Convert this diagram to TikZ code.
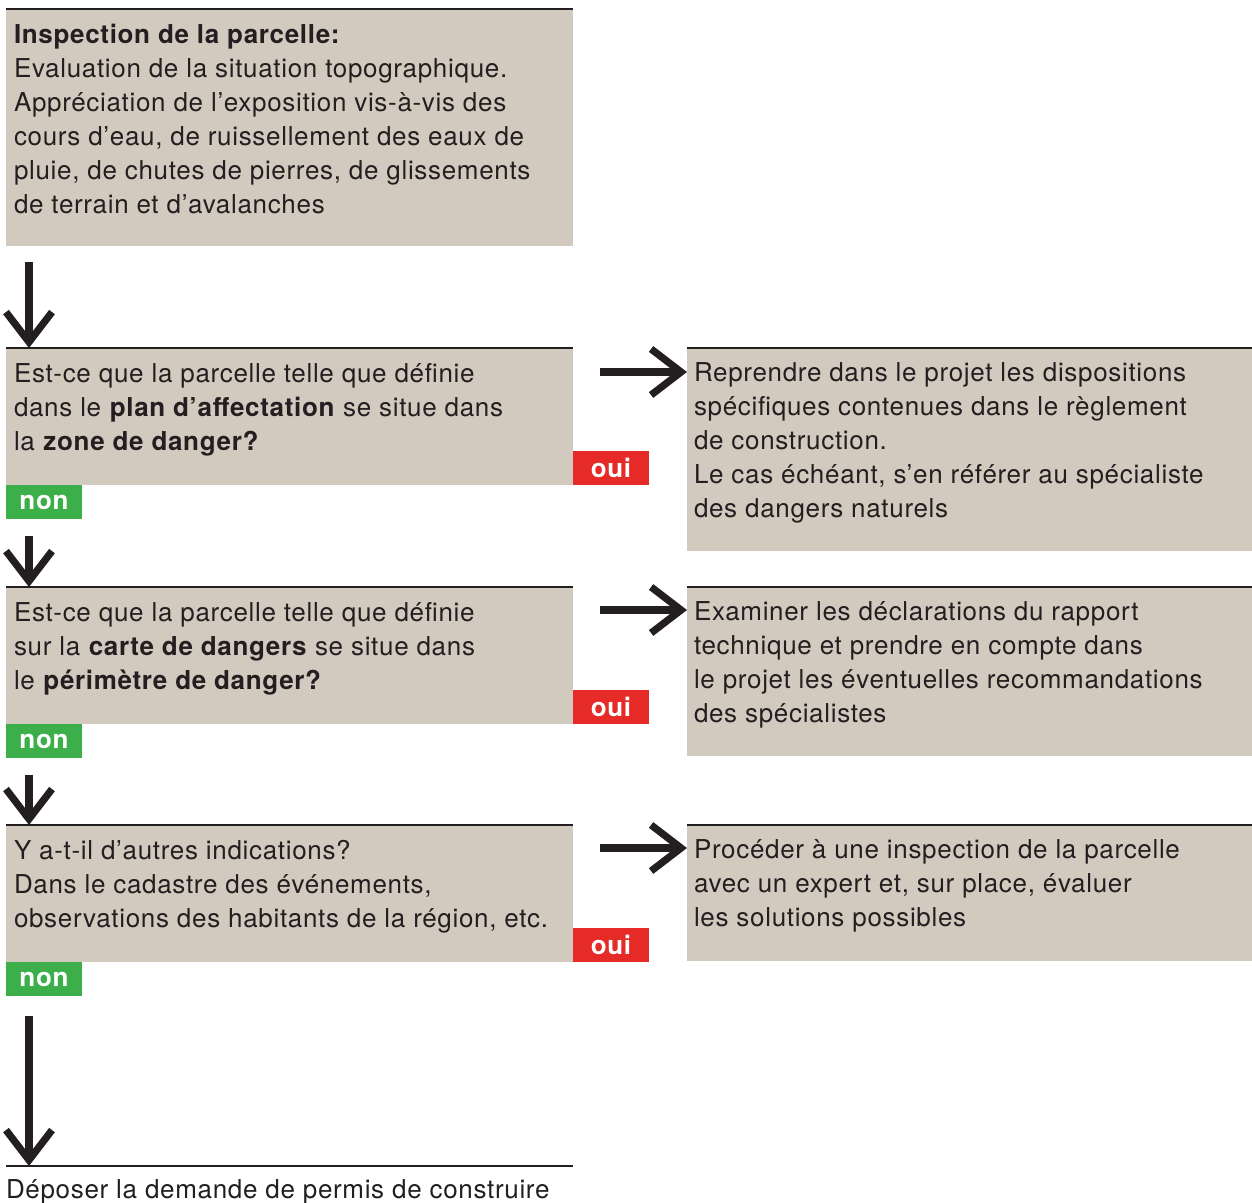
\documentclass[tikz,border=0pt]{standalone}
\usepackage{fontspec}
\setmainfont[LetterSpace=2.6]{TeX Gyre Heros}
\usetikzlibrary{positioning,arrows.meta}

\definecolor{beige}{HTML}{D2CABF}
\definecolor{ink}{HTML}{231F20}
\definecolor{ouired}{HTML}{E52A27}
\definecolor{nongreen}{HTML}{3CAF4A}

\tikzset{
  box/.style 2 args={fill=beige, minimum width=#1, minimum height=#2, inner sep=0pt, outer sep=0pt, anchor=north west},
  txt/.style={anchor=north west, inner sep=0pt, outer sep=0pt, text=ink, align=left, font=\fontsize{13}{17}\selectfont},
  topline/.style={draw=ink, line width=1pt},
  tag/.style={fill=#1, text=white, font=\fontsize{13}{17}\selectfont\bfseries, minimum width=38pt, minimum height=17pt, inner sep=0pt, outer sep=0pt},
  flow/.style={draw=ink, line width=3.6pt, -{Straight Barb[length=15pt,width=23pt]}},
}

\begin{document}
\begin{tikzpicture}[x=1pt,y=1pt]
  \useasboundingbox (0,0) rectangle (626,-601.5);

  % left column
  \node[box={283.5pt}{118.5pt}] (insp) at (3,-4.5) {};
  \node[box={283.5pt}{68.5pt}, below=51pt of insp.south west, anchor=north west] (q1) {};
  \node[box={283.5pt}{68.5pt}, below=51pt of q1.south west, anchor=north west] (q2) {};
  \node[box={283.5pt}{68.5pt}, below=50.5pt of q2.south west, anchor=north west] (q3) {};

  % right column
  \node[box={282.5pt}{101.5pt}, right=57pt of q1.north east, anchor=north west] (r1) {};
  \node[box={282.5pt}{84.5pt}, right=57pt of q2.north east, anchor=north west] (r2) {};
  \node[box={282.5pt}{68pt}, right=57pt of q3.north east, anchor=north west] (r3) {};

  \foreach \b in {insp,q1,q2,q3,r1,r2,r3}
    \draw[topline] (\b.north west) -- (\b.north east);

  % texts
  \node[txt] (insp-t) at ([xshift=4pt,yshift=-7.5pt]insp.north west)
    {\textbf{Inspection de la parcelle:}\\
     Evaluation de la situation topographique.\\
     Appréciation de l’exposition vis-à-vis des\\
     cours d’eau, de ruissellement des eaux de\\
     pluie, de chutes de pierres, de glissements\\
     de terrain et d’avalanches};
  \node[txt] (q1-t) at ([xshift=4pt,yshift=-7.5pt]q1.north west)
    {Est-ce que la parcelle telle que définie\\
     dans le \textbf{plan d’affectation} se situe dans\\
     la \textbf{zone de danger?}};
  \node[txt] (q2-t) at ([xshift=4pt,yshift=-7.5pt]q2.north west)
    {Est-ce que la parcelle telle que définie\\
     sur la \textbf{carte de dangers} se situe dans\\
     le \textbf{périmètre de danger?}};
  \node[txt] (q3-t) at ([xshift=4pt,yshift=-7.5pt]q3.north west)
    {Y a-t-il d’autres indications?\\
     Dans le cadastre des événements,\\
     observations des habitants de la région, etc.};
  \node[txt] (r1-t) at ([xshift=3.5pt,yshift=-7.5pt]r1.north west)
    {Reprendre dans le projet les dispositions\\
     spécifiques contenues dans le règlement\\
     de construction.\\
     Le cas échéant, s’en référer au spécialiste\\
     des dangers naturels};
  \node[txt] (r2-t) at ([xshift=3.5pt,yshift=-7.5pt]r2.north west)
    {Examiner les déclarations du rapport\\
     technique et prendre en compte dans\\
     le projet les éventuelles recommandations\\
     des spécialistes};
  \node[txt] (r3-t) at ([xshift=3.5pt,yshift=-7.5pt]r3.north west)
    {Procéder à une inspection de la parcelle\\
     avec un expert et, sur place, évaluer\\
     les solutions possibles};

  % oui / non
  \node[tag=nongreen, anchor=north west] (non1) at (q1.south west) {non};
  \node[tag=nongreen, anchor=north west] (non2) at (q2.south west) {non};
  \node[tag=nongreen, anchor=north west] (non3) at (q3.south west) {non};
  \node[tag=ouired, anchor=south west] (oui1) at (q1.south east) {oui};
  \node[tag=ouired, anchor=south west] (oui2) at (q2.south east) {oui};
  \node[tag=ouired, anchor=south west] (oui3) at (q3.south east) {oui};

  % final step
  \coordinate (fin) at ([yshift=-102pt]q3.south west);
  \coordinate (fin-e) at ([xshift=283.5pt]fin);
  \draw[topline] (fin) -- (fin-e);
  \node[txt] (depot) at ([yshift=-7pt]fin) {Déposer la demande de permis de construire};

  % arrows
  \draw[flow] ([xshift=11.5pt,yshift=-8pt]insp.south west) -- ([xshift=11.5pt]q1.north west);
  \draw[flow] ([xshift=11.5pt,yshift=-8.5pt]non1.south west) -- ([xshift=11.5pt]q2.north west);
  \draw[flow] ([xshift=11.5pt,yshift=-8.5pt]non2.south west) -- ([xshift=11.5pt]q3.north west);
  \draw[flow] ([xshift=11.5pt,yshift=-10pt]non3.south west) -- ([xshift=11.5pt]fin);
  \draw[flow] ([xshift=13.5pt,yshift=-12pt]q1.north east) -- ([yshift=-12pt]r1.north west);
  \draw[flow] ([xshift=13.5pt,yshift=-11.5pt]q2.north east) -- ([yshift=-11.5pt]r2.north west);
  \draw[flow] ([xshift=13.5pt,yshift=-11.5pt]q3.north east) -- ([yshift=-11.5pt]r3.north west);
\end{tikzpicture}
\end{document}
